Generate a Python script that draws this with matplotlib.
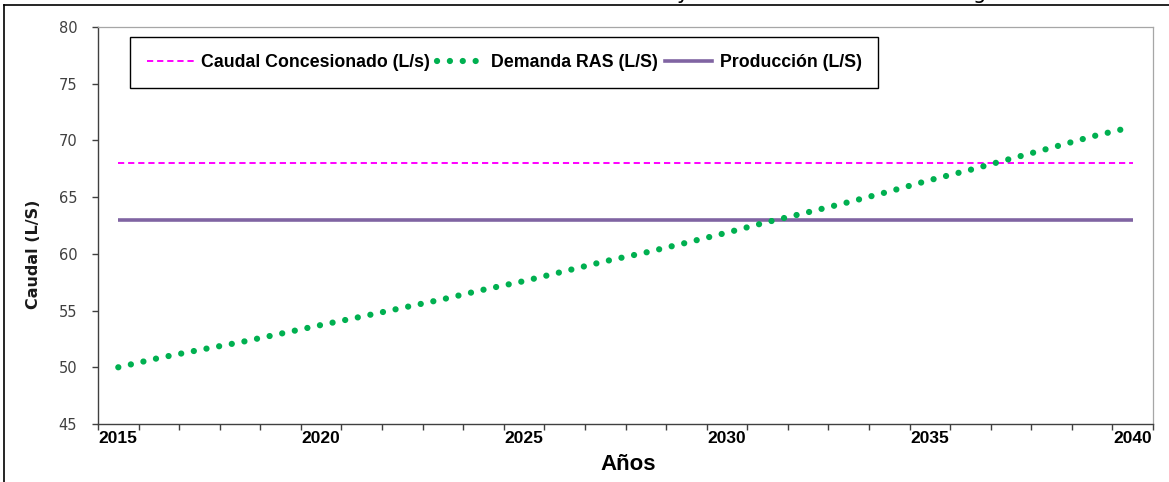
import numpy as np
import matplotlib
matplotlib.use("Agg")
import matplotlib.pyplot as plt
from matplotlib.lines import Line2D

# datos
years = list(range(2015, 2041))
demanda_ras = [50.0, 50.82, 51.53, 52.2, 52.96, 53.73, 54.47, 55.24, 56.0, 56.84,
               57.6, 58.47, 59.35, 60.12, 60.98, 61.87, 62.81, 63.67, 64.56, 65.5,
               66.5, 67.41, 68.39, 69.36, 70.35, 71.2]
caudal_concesionado = [68] * len(years)
produccion = [63] * len(years)
label_years = [2015, 2020, 2025, 2030, 2035, 2040]
y_ticks = [45, 50, 55, 60, 65, 70, 75, 80]

W, H = 1169, 482
fig = plt.figure(figsize=(W / 100, H / 100), dpi=100)
ax = fig.add_axes([98 / W, (H - 424) / H, 1055 / W, 397 / H])

x = np.arange(len(years))
ax.plot(x, produccion, color="#8064A2", lw=2.6, solid_capstyle="butt",
        label="Producción (L/S)", zorder=2)
ax.plot(x, caudal_concesionado, color="#FF00FF", lw=1.4, linestyle=(0, (3.2, 2.0)),
        label="Caudal Concesionado (L/s)", zorder=3)
ax.plot(x, demanda_ras, color="#00B050", lw=4.5, linestyle=(0, (0.01, 2.05)),
        dash_capstyle="round", label="Demanda RAS (L/S)", zorder=4)

ax.set_xlim(-0.5, len(years) - 0.5)
ax.set_ylim(45, 80)

# eje de categorias: marcas en los limites, etiquetas en el centro
ax.set_xticks(np.arange(-0.5, len(years), 1.0))
ax.set_xticklabels([])
ax.set_xticks([years.index(y) for y in label_years], minor=True)
ax.set_xticklabels([str(y) for y in label_years], minor=True,
                   fontfamily="Liberation Sans", fontweight="bold", fontsize=12.5)
ax.tick_params(axis="x", which="major", direction="out", length=4, width=1, color="#404040")
ax.tick_params(axis="x", which="minor", length=0, pad=5)

ax.set_yticks(y_ticks)
ax.set_yticklabels([str(v) for v in y_ticks], fontsize=10.5, color="#404040")
ax.tick_params(axis="y", direction="out", length=4, width=1, color="#404040", pad=11)

for s in ["left", "bottom"]:
    ax.spines[s].set_color("#404040")
    ax.spines[s].set_linewidth(1.0)
for s in ["top", "right"]:
    ax.spines[s].set_color("#A6A6A6")
    ax.spines[s].set_linewidth(0.9)

fig.text(33 / W, 1 - 254 / H, "Caudal (L/S)", rotation=90, ha="center", va="center",
         fontsize=11.5, fontweight="bold", color="#1a1a1a")
fig.text(628 / W, 1 - 465 / H, "Años", ha="center", va="center",
         fontfamily="Liberation Sans", fontsize=16, fontweight="bold")

handles = [
    Line2D([], [], color="#FF00FF", lw=1.4, linestyle=(0, (3.2, 2.0))),
    Line2D([], [], color="#00B050", lw=4.5, linestyle=(0, (0.01, 2.05)), dash_capstyle="round"),
    Line2D([], [], color="#8064A2", lw=2.6),
]
labels = ["Caudal Concesionado (L/s)", "Demanda RAS (L/S)", "Producción (L/S)"]
leg = ax.legend(handles, labels, ncol=3, loc="upper left",
                bbox_to_anchor=((130 - 98) / 1055, (424 - 37) / 397),
                prop={"family": "Liberation Sans", "weight": "bold", "size": 12.8},
                frameon=True, fancybox=False, edgecolor="black", framealpha=1,
                handlelength=2.65, handletextpad=0.4, columnspacing=0.4,
                borderpad=0.95, borderaxespad=0)
leg.get_frame().set_linewidth(1.0)

# borde del marco y restos del titulo cortado
fig.add_artist(Line2D([4 / W, 1], [1 - 5 / H, 1 - 5 / H], color="black", lw=1.2))
fig.add_artist(Line2D([4 / W, 4 / W], [0, 1 - 5 / H], color="black", lw=1.2))
fig.text(683 / W, 1 + 1 / H, "y", ha="center", va="baseline", fontsize=15)
fig.text(980 / W, 1 + 1 / H, "g", ha="center", va="baseline", fontsize=15)

fig.savefig("out.png", dpi=100)
